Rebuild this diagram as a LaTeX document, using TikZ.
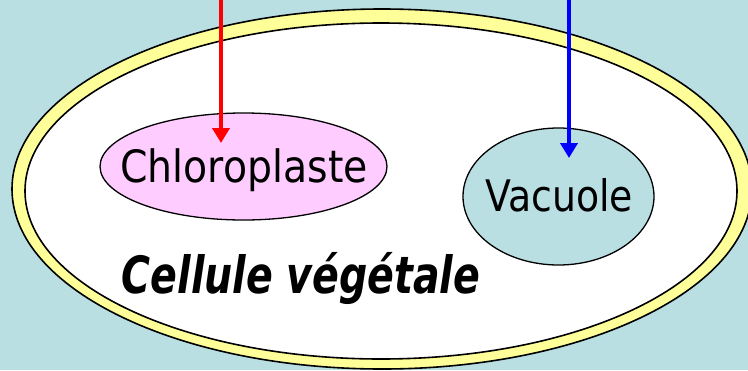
\documentclass[tikz,border=0pt]{standalone}
\usepackage{fontspec}
\setmainfont{DejaVu Sans}
\usetikzlibrary{shapes.geometric,arrows.meta}
\definecolor{bgblue}{HTML}{B9DFE3}
\definecolor{wallyellow}{HTML}{FFFF99}
\definecolor{chlpink}{HTML}{FFCCFF}
\tikzset{
  organelle/.style={ellipse, draw=black, line width=1.3pt, inner sep=0pt},
  label/.style={text=black, anchor=base, inner sep=0pt},
  ptr/.style={line width=4.5pt, -{Triangle[width=17pt,length=15pt]}}
}
\begin{document}
\begin{tikzpicture}[x=1pt,y=-1pt]
\useasboundingbox (0,0) rectangle (748,370);
\fill[bgblue] (0,0) rectangle (748,370);
% cell wall and cell
\node[ellipse, draw=black, fill=wallyellow, line width=1.6pt, minimum width=740pt, minimum height=360pt, inner sep=0pt] (wall) at (382,189) {};
\node[ellipse, draw=black, fill=white, line width=1.6pt, minimum width=712pt, minimum height=336pt, inner sep=0pt] (cell) at (381,191) {};
% organelles
\node[organelle, fill=chlpink, minimum width=287pt, minimum height=107pt] (chl) at (243.5,166.5) {};
\node[label, font=\fontsize{39.4}{44}\selectfont] (chltext) at (244,182) {\scalebox{1}[1.13]{Chloroplaste}};
\node[organelle, fill=bgblue, minimum width=191pt, minimum height=137pt] (vac) at (558.5,196.5) {};
\node[label, font=\fontsize{37.8}{44}\selectfont] (vactext) at (559,211) {\scalebox{1}[1.15]{Vacuole}};
\node[label, font=\fontsize{39.5}{44}\selectfont\bfseries\itshape] (title) at (301,293) {\scalebox{1}[1.3]{Cellule végétale}};
% arrows
\coordinate (rtop) at (221,0);
\coordinate (rtip) at (221,143);
\coordinate (btop) at (569,0);
\coordinate (btip) at (569,158);
\draw[ptr, red] (rtop) -- (rtip);
\draw[ptr, blue] (btop) -- (btip);
\end{tikzpicture}
\end{document}
